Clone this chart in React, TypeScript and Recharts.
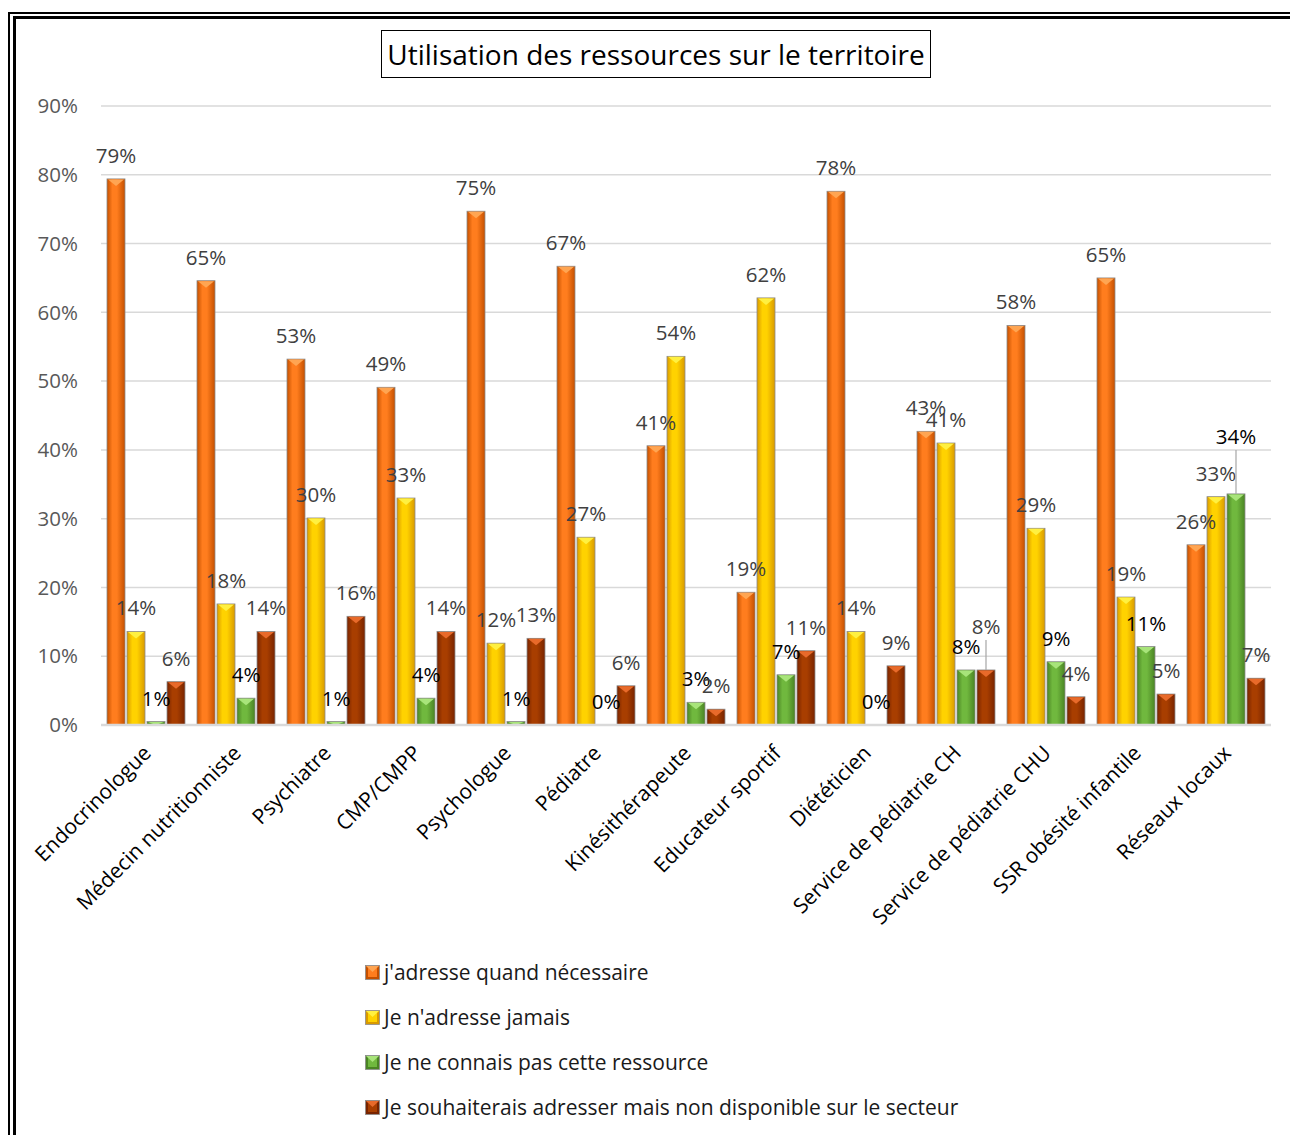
import { Bar, BarChart, CartesianGrid, LabelList, XAxis, YAxis } from 'recharts'

const categories = [
  'Endocrinologue',
  'Médecin nutritionniste',
  'Psychiatre',
  'CMP/CMPP',
  'Psychologue',
  'Pédiatre',
  'Kinésithérapeute',
  'Educateur sportif',
  'Diététicien',
  'Service de pédiatrie CH',
  'Service de pédiatrie CHU',
  'SSR obésité infantile',
  'Réseaux locaux',
]

const adresse = [79.4, 64.6, 53.2, 49.1, 74.7, 66.7, 40.6, 19.3, 77.6, 42.7, 58.1, 65.0, 26.2]
const jamais = [13.6, 17.6, 30.1, 33.0, 11.9, 27.3, 53.6, 62.1, 13.6, 41.0, 28.6, 18.6, 33.2]
const connaisPas = [0.5, 3.9, 0.5, 3.9, 0.5, 0, 3.3, 7.3, 0, 8.0, 9.2, 11.4, 33.6]
const souhaite = [6.3, 13.6, 15.8, 13.6, 12.6, 5.7, 2.3, 10.8, 8.6, 8.0, 4.1, 4.5, 6.8]

const yTicks = [0, 10, 20, 30, 40, 50, 60, 70, 80, 90]

const SERIES = [
  { key: 'adresse', name: "j'adresse quand nécessaire", dark: '#c45000', light: '#ff7d1e', bevel: '#ffa552', label: '#404040' },
  { key: 'jamais', name: "Je n'adresse jamais", dark: '#d99a00', light: '#ffd200', bevel: '#fff040', label: '#404040' },
  { key: 'connaisPas', name: 'Je ne connais pas cette ressource', dark: '#4a8424', light: '#70b83e', bevel: '#a8e47a', label: '#000000' },
  { key: 'souhaite', name: 'Je souhaiterais adresser mais non disponible sur le secteur', dark: '#782400', light: '#a83e00', bevel: '#e86a2a', label: '#404040' },
]

// labels Excel pushed up with a leader line
const LIFTED: Record<string, { index: number; lift: number }> = {
  souhaite: { index: 9, lift: 20 },
  connaisPas: { index: 12, lift: 34 },
}

const FONT = '"Open Sans", Lato, sans-serif'

const data = categories.map((name, i) => ({
  name,
  adresse: adresse[i],
  jamais: jamais[i],
  connaisPas: connaisPas[i],
  souhaite: souhaite[i],
}))

function makeShape(s: (typeof SERIES)[number]) {
  return (props: any) => {
    const { x, y, width, height } = props
    if (width == null || height == null) return <g />
    const h = Math.max(height, 0)
    const tri = Math.min(7, h)
    return (
      <g>
        <rect x={x} y={y} width={width} height={h} fill={`url(#grad-${s.key})`} stroke="#8c8c8c" strokeWidth={0.8} />
        {h > 0 && (
          <polygon
            points={`${x + 1},${y + 0.5} ${x + width - 1},${y + 0.5} ${x + width / 2},${y + tri}`}
            fill={s.bevel}
          />
        )}
      </g>
    )
  }
}

function makeLabel(s: (typeof SERIES)[number]) {
  return (props: any) => {
    const { x, y, width, value, index } = props
    const cx = x + width / 2
    const lifted = LIFTED[s.key]
    const lift = lifted && lifted.index === index ? lifted.lift : 0
    const ty = y - 24 - lift
    return (
      <g>
        {lift > 0 && <line x1={cx} x2={cx} y1={ty + 14} y2={y} stroke="#a6a6a6" strokeWidth={1.2} />}
        <text x={cx} y={ty} textAnchor="middle" dominantBaseline="central" fill={s.label} fontSize={20.5} fontFamily={FONT}>
          {`${Math.round(value)}%`}
        </text>
      </g>
    )
  }
}

function CategoryTick(props: any) {
  const { x, y, payload } = props
  return (
    <g transform={`translate(${x - 4},${y + 11})`}>
      <text x={0} y={0} dy="0.7em" textAnchor="end" transform="rotate(-45)" fill="#000" fontSize={21} fontFamily={FONT}>
        {payload.value}
      </text>
    </g>
  )
}

function LegendMarker({ s }: { s: (typeof SERIES)[number] }) {
  return (
    <svg width={15} height={15} style={{ display: 'block' }}>
      <rect x={0.5} y={0.5} width={14} height={14} fill={s.dark} stroke="#8c8c8c" strokeWidth={0.8} />
      <rect x={3} y={3} width={9} height={9} fill={s.light} />
      <polygon points="1,1 14,1 7.5,7" fill={s.bevel} />
    </svg>
  )
}

export default function App() {
  return (
    <div style={{ position: 'absolute', left: 0, top: 0, width: 1290, height: 1135, background: '#fff', overflow: 'hidden', fontFamily: FONT }}>
      <div style={{ position: 'absolute', left: 8, top: 12, width: 1400, height: 1300, border: '2px solid #000' }} />
      <div style={{ position: 'absolute', left: 13, top: 16, width: 1400, height: 1300, border: '3px solid #000' }} />
      <BarChart
        width={1290}
        height={1135}
        data={data}
        margin={{ top: 106, right: 19, bottom: 330, left: 11 }}
        barCategoryGap={6}
        barGap={2}
        style={{ position: 'absolute', left: 0, top: 0 }}
      >
        <defs>
          {SERIES.map((s) => (
            <linearGradient key={s.key} id={`grad-${s.key}`} x1="0" y1="0" x2="1" y2="0">
              <stop offset="0%" stopColor={s.dark} />
              <stop offset="30%" stopColor={s.light} />
              <stop offset="55%" stopColor={s.light} />
              <stop offset="100%" stopColor={s.dark} />
            </linearGradient>
          ))}
        </defs>
        <CartesianGrid vertical={false} stroke="#d9d9d9" strokeWidth={1.5} />
        <XAxis
          dataKey="name"
          interval={0}
          height={80}
          tickLine={false}
          axisLine={{ stroke: '#d9d9d9', strokeWidth: 2.5 }}
          tick={<CategoryTick />}
        />
        <YAxis
          width={90}
          domain={[0, 90]}
          ticks={yTicks}
          tickLine={false}
          axisLine={false}
          tickSize={0}
          tickMargin={23}
          tick={{ fill: '#595959', fontSize: 20.5, fontFamily: FONT }}
          tickFormatter={(v) => `${v}%`}
        />
        {SERIES.map((s) => (
          <Bar key={s.key} dataKey={s.key} name={s.name} fill={s.light} shape={makeShape(s)} isAnimationActive={false}>
            <LabelList dataKey={s.key} content={makeLabel(s)} />
          </Bar>
        ))}
      </BarChart>
      <div
        style={{
          position: 'absolute',
          left: 381,
          top: 30,
          width: 548,
          height: 46,
          border: '1.5px solid #000',
          display: 'flex',
          alignItems: 'center',
          justifyContent: 'center',
          fontSize: 28,
          color: '#000',
          background: '#fff',
          whiteSpace: 'nowrap',
        }}
      >
        Utilisation des ressources sur le territoire
      </div>
      {SERIES.map((s, i) => (
        <div
          key={s.key}
          style={{ position: 'absolute', left: 365, top: 960 + i * 45, height: 24, display: 'flex', alignItems: 'center', gap: 4, fontSize: 21, color: '#1a1a1a', whiteSpace: 'nowrap' }}
        >
          <LegendMarker s={s} />
          <span>{s.name}</span>
        </div>
      ))}
    </div>
  )
}
